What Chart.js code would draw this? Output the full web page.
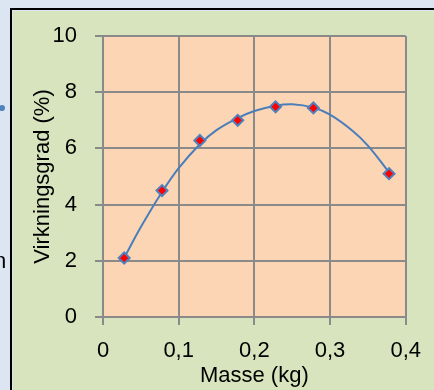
<!DOCTYPE html>
<html>
<head>
<meta charset="utf-8">
<script src="https://cdn.jsdelivr.net/npm/chart.js@4/dist/chart.umd.min.js"></script>
<style>
  html,body{margin:0;padding:0;background:#dce6f2;}
  #wrap{width:434px;height:390px;}
</style>
</head>
<body>
<div id="wrap"><canvas id="c" width="434" height="390"></canvas></div>
<script>
// Measured points
const masse = [0.028, 0.078, 0.128, 0.178, 0.228, 0.278, 0.378];
const virkningsgrad = [2.1, 4.5, 6.28, 7.0, 7.48, 7.44, 5.1];
// Trend curve
const trendX = [0.028, 0.05, 0.078, 0.1, 0.128, 0.15, 0.178, 0.2, 0.228, 0.25, 0.278, 0.3, 0.33, 0.35, 0.378];
const trendY = [2.1, 3.2, 4.45, 5.3, 6.15, 6.65, 7.08, 7.33, 7.52, 7.57, 7.45, 7.2, 6.62, 6.1, 5.15];
const xTickLabels = ['0', '0,1', '0,2', '0,3', '0,4'];
const yTickLabels = ['0', '2', '4', '6', '8', '10'];
const xTitle = 'Masse (kg)';
const yTitle = 'Virkningsgrad (%)';

const FONT = "'Liberation Sans', Arial, sans-serif";

const bgPlugin = {
  id: 'bg',
  beforeDraw(chart) {
    const ctx = chart.ctx;
    const W = chart.width, H = chart.height;
    ctx.save();
    ctx.fillStyle = '#dce6f2';
    ctx.fillRect(0, 0, W, H);
    ctx.fillStyle = '#000000';
    ctx.fillRect(10, 8, 2, H - 8);
    ctx.fillRect(10, 8, W - 10, 2);
    ctx.fillStyle = '#d7e4bd';
    ctx.fillRect(13, 11, W - 13, H - 11);
    // stray marks at the left edge
    ctx.fillStyle = '#4f81bd';
    ctx.beginPath();
    ctx.arc(2, 108, 3, 0, Math.PI * 2);
    ctx.fill();
    ctx.fillStyle = '#000';
    ctx.font = '22px ' + FONT;
    ctx.textBaseline = 'alphabetic';
    ctx.fillText('n', -6, 268);
    const a = chart.chartArea;
    ctx.fillStyle = '#fcd5b5';
    ctx.fillRect(a.left, a.top, a.right - a.left, a.bottom - a.top);
    ctx.restore();
  }
};

const gridCol = '#8a8a8a';

new Chart(document.getElementById('c'), {
  type: 'scatter',
  data: {
    datasets: [
      {
        label: 'trend',
        data: trendX.map((x, i) => ({x, y: trendY[i]})),
        showLine: true,
        tension: 0.4,
        borderColor: '#4a7ebb',
        borderWidth: 2,
        pointRadius: 0,
        fill: false,
        order: 2
      },
      {
        label: 'Virkningsgrad',
        data: masse.map((x, i) => ({x, y: virkningsgrad[i]})),
        showLine: false,
        pointStyle: 'rectRot',
        pointRadius: 5.5,
        pointBackgroundColor: '#ff0000',
        pointBorderColor: '#4f81bd',
        pointBorderWidth: 2,
        order: 1
      }
    ]
  },
  plugins: [bgPlugin],
  options: {
    responsive: false,
    animation: false,
    devicePixelRatio: 1,
    layout: { padding: { left: 13, right: 26, top: 36, bottom: 0 } },
    plugins: { legend: { display: false }, tooltip: { enabled: false } },
    scales: {
      x: {
        type: 'linear',
        min: 0, max: 0.4,
        afterFit(s) { s.height = 73; },
        ticks: {
          stepSize: 0.1,
          color: '#000',
          padding: 13,
          maxRotation: 0,
          font: { family: FONT, size: 22 },
          callback: (v, i) => xTickLabels[i]
        },
        grid: { color: gridCol, lineWidth: 2, tickLength: 8, tickColor: gridCol },
        border: { color: gridCol, width: 2 },
        title: {
          display: true, text: xTitle, color: '#000',
          font: { family: FONT, size: 22 },
          padding: { top: 0, bottom: 1 }
        }
      },
      y: {
        type: 'linear',
        min: 0, max: 10,
        afterFit(s) { s.width = 90; },
        ticks: {
          stepSize: 2,
          color: '#000',
          padding: 18,
          font: { family: FONT, size: 22 },
          callback: (v, i) => yTickLabels[i]
        },
        grid: { color: gridCol, lineWidth: 2, tickLength: 8, tickColor: gridCol },
        border: { color: gridCol, width: 2 },
        title: {
          display: true, text: yTitle, color: '#000',
          font: { family: FONT, size: 22 },
          padding: { top: 17, bottom: 0 }
        }
      }
    }
  }
});
</script>
</body>
</html>
